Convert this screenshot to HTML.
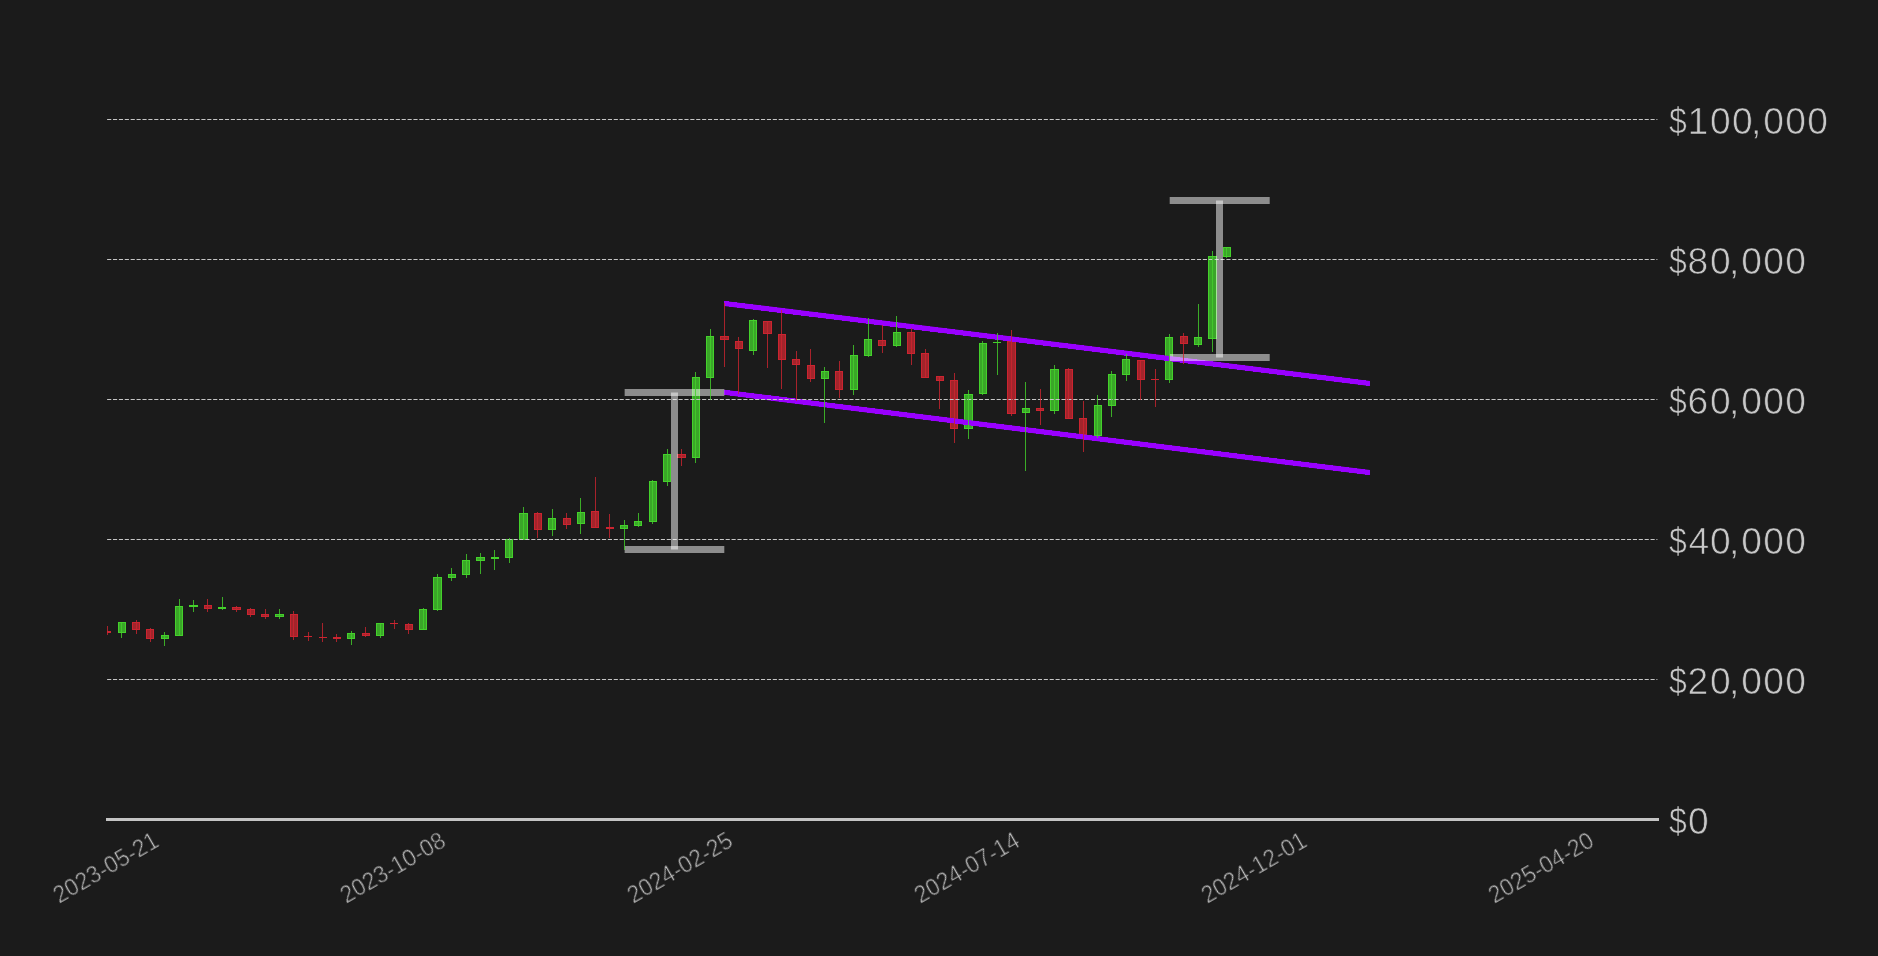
<!DOCTYPE html>
<html lang="en"><head><meta charset="utf-8"><title>BTC weekly chart</title>
<style>html,body{margin:0;padding:0;background:#1b1b1b;overflow:hidden}svg{display:block}text{font-family:"Liberation Sans",sans-serif;fill:#c8c8c8;stroke:#1b1b1b;stroke-width:0.7px}</style></head><body>
<svg width="1878" height="956" viewBox="0 0 1878 956">
<rect width="1878" height="956" fill="#1b1b1b"/>
<defs><clipPath id="cp"><rect x="107" y="0" width="1600" height="956"/></clipPath></defs>
<g clip-path="url(#cp)" shape-rendering="crispEdges">
<rect x="103" y="631" width="8" height="2" fill="#cc2430"/>
<rect x="118.5" y="622.5" width="7" height="10" fill="#3aa628" stroke="#44d12b" stroke-width="1"/>
<rect x="132.5" y="622.5" width="7" height="7" fill="#a3242b" stroke="#cc2430" stroke-width="1"/>
<rect x="146.5" y="629.5" width="7" height="9" fill="#a3242b" stroke="#cc2430" stroke-width="1"/>
<rect x="161.5" y="635.5" width="7" height="3" fill="#3aa628" stroke="#44d12b" stroke-width="1"/>
<rect x="175.5" y="606.5" width="7" height="29" fill="#3aa628" stroke="#44d12b" stroke-width="1"/>
<rect x="189" y="605" width="9" height="2" fill="#44d12b"/>
<rect x="204.5" y="605.5" width="7" height="3" fill="#a3242b" stroke="#cc2430" stroke-width="1"/>
<rect x="218" y="607" width="8" height="2" fill="#44d12b"/>
<rect x="232.5" y="607.5" width="8" height="2" fill="#a3242b" stroke="#cc2430" stroke-width="1"/>
<rect x="247.5" y="609.5" width="7" height="5" fill="#a3242b" stroke="#cc2430" stroke-width="1"/>
<rect x="261.5" y="614.5" width="7" height="2" fill="#a3242b" stroke="#cc2430" stroke-width="1"/>
<rect x="275.5" y="614.5" width="8" height="2" fill="#3aa628" stroke="#44d12b" stroke-width="1"/>
<rect x="290.5" y="614.5" width="7" height="22" fill="#a3242b" stroke="#cc2430" stroke-width="1"/>
<rect x="304" y="636" width="8" height="1" fill="#cc2430"/>
<rect x="319" y="637" width="8" height="1" fill="#cc2430"/>
<rect x="333" y="637" width="8" height="2" fill="#cc2430"/>
<rect x="347.5" y="633.5" width="7" height="5" fill="#3aa628" stroke="#44d12b" stroke-width="1"/>
<rect x="362.5" y="633.5" width="7" height="2" fill="#a3242b" stroke="#cc2430" stroke-width="1"/>
<rect x="376.5" y="623.5" width="7" height="12" fill="#3aa628" stroke="#44d12b" stroke-width="1"/>
<rect x="390" y="623" width="8" height="1" fill="#cc2430"/>
<rect x="405.5" y="624.5" width="7" height="5" fill="#a3242b" stroke="#cc2430" stroke-width="1"/>
<rect x="419.5" y="609.5" width="7" height="20" fill="#3aa628" stroke="#44d12b" stroke-width="1"/>
<rect x="433.5" y="577.5" width="8" height="32" fill="#3aa628" stroke="#44d12b" stroke-width="1"/>
<rect x="448.5" y="574.5" width="7" height="3" fill="#3aa628" stroke="#44d12b" stroke-width="1"/>
<rect x="462.5" y="560.5" width="7" height="14" fill="#3aa628" stroke="#44d12b" stroke-width="1"/>
<rect x="476.5" y="557.5" width="8" height="3" fill="#3aa628" stroke="#44d12b" stroke-width="1"/>
<rect x="491" y="557" width="8" height="2" fill="#44d12b"/>
<rect x="505.5" y="539.5" width="7" height="18" fill="#3aa628" stroke="#44d12b" stroke-width="1"/>
<rect x="519.5" y="513.5" width="8" height="26" fill="#3aa628" stroke="#44d12b" stroke-width="1"/>
<rect x="534.5" y="513.5" width="7" height="16" fill="#a3242b" stroke="#cc2430" stroke-width="1"/>
<rect x="548.5" y="518.5" width="7" height="11" fill="#3aa628" stroke="#44d12b" stroke-width="1"/>
<rect x="563.5" y="518.5" width="7" height="6" fill="#a3242b" stroke="#cc2430" stroke-width="1"/>
<rect x="577.5" y="512.5" width="7" height="11" fill="#3aa628" stroke="#44d12b" stroke-width="1"/>
<rect x="591.5" y="511.5" width="7" height="16" fill="#a3242b" stroke="#cc2430" stroke-width="1"/>
<rect x="606" y="527" width="8" height="2" fill="#cc2430"/>
<rect x="620.5" y="525.5" width="7" height="3" fill="#3aa628" stroke="#44d12b" stroke-width="1"/>
<rect x="634.5" y="521.5" width="7" height="4" fill="#3aa628" stroke="#44d12b" stroke-width="1"/>
<rect x="649.5" y="481.5" width="7" height="40" fill="#3aa628" stroke="#44d12b" stroke-width="1"/>
<rect x="663.5" y="454.5" width="7" height="27" fill="#3aa628" stroke="#44d12b" stroke-width="1"/>
<rect x="677.5" y="454.5" width="8" height="3" fill="#a3242b" stroke="#cc2430" stroke-width="1"/>
<rect x="692.5" y="377.5" width="7" height="80" fill="#3aa628" stroke="#44d12b" stroke-width="1"/>
<rect x="706.5" y="336.5" width="7" height="41" fill="#3aa628" stroke="#44d12b" stroke-width="1"/>
<rect x="720.5" y="336.5" width="8" height="3" fill="#a3242b" stroke="#cc2430" stroke-width="1"/>
<rect x="735.5" y="341.5" width="7" height="7" fill="#a3242b" stroke="#cc2430" stroke-width="1"/>
<rect x="749.5" y="320.5" width="7" height="30" fill="#3aa628" stroke="#44d12b" stroke-width="1"/>
<rect x="763.5" y="321.5" width="8" height="12" fill="#a3242b" stroke="#cc2430" stroke-width="1"/>
<rect x="778.5" y="334.5" width="7" height="25" fill="#a3242b" stroke="#cc2430" stroke-width="1"/>
<rect x="792.5" y="359.5" width="7" height="5" fill="#a3242b" stroke="#cc2430" stroke-width="1"/>
<rect x="807.5" y="365.5" width="7" height="13" fill="#a3242b" stroke="#cc2430" stroke-width="1"/>
<rect x="821.5" y="371.5" width="7" height="7" fill="#3aa628" stroke="#44d12b" stroke-width="1"/>
<rect x="835.5" y="371.5" width="7" height="18" fill="#a3242b" stroke="#cc2430" stroke-width="1"/>
<rect x="850.5" y="355.5" width="7" height="34" fill="#3aa628" stroke="#44d12b" stroke-width="1"/>
<rect x="864.5" y="339.5" width="7" height="16" fill="#3aa628" stroke="#44d12b" stroke-width="1"/>
<rect x="878.5" y="340.5" width="7" height="5" fill="#a3242b" stroke="#cc2430" stroke-width="1"/>
<rect x="893.5" y="332.5" width="7" height="13" fill="#3aa628" stroke="#44d12b" stroke-width="1"/>
<rect x="907.5" y="332.5" width="7" height="21" fill="#a3242b" stroke="#cc2430" stroke-width="1"/>
<rect x="921.5" y="353.5" width="7" height="24" fill="#a3242b" stroke="#cc2430" stroke-width="1"/>
<rect x="936.5" y="376.5" width="7" height="4" fill="#a3242b" stroke="#cc2430" stroke-width="1"/>
<rect x="950.5" y="380.5" width="7" height="48" fill="#a3242b" stroke="#cc2430" stroke-width="1"/>
<rect x="964.5" y="394.5" width="8" height="34" fill="#3aa628" stroke="#44d12b" stroke-width="1"/>
<rect x="979.5" y="343.5" width="7" height="50" fill="#3aa628" stroke="#44d12b" stroke-width="1"/>
<rect x="993" y="342" width="8" height="1" fill="#44d12b"/>
<rect x="1007.5" y="341.5" width="8" height="72" fill="#a3242b" stroke="#cc2430" stroke-width="1"/>
<rect x="1022.5" y="408.5" width="7" height="4" fill="#3aa628" stroke="#44d12b" stroke-width="1"/>
<rect x="1036.5" y="408.5" width="7" height="2" fill="#a3242b" stroke="#cc2430" stroke-width="1"/>
<rect x="1050.5" y="369.5" width="8" height="41" fill="#3aa628" stroke="#44d12b" stroke-width="1"/>
<rect x="1065.5" y="369.5" width="7" height="49" fill="#a3242b" stroke="#cc2430" stroke-width="1"/>
<rect x="1079.5" y="418.5" width="7" height="16" fill="#a3242b" stroke="#cc2430" stroke-width="1"/>
<rect x="1094.5" y="405.5" width="7" height="30" fill="#3aa628" stroke="#44d12b" stroke-width="1"/>
<rect x="1108.5" y="374.5" width="7" height="31" fill="#3aa628" stroke="#44d12b" stroke-width="1"/>
<rect x="1122.5" y="359.5" width="7" height="15" fill="#3aa628" stroke="#44d12b" stroke-width="1"/>
<rect x="1137.5" y="360.5" width="7" height="19" fill="#a3242b" stroke="#cc2430" stroke-width="1"/>
<rect x="1151" y="379" width="8" height="1" fill="#cc2430"/>
<rect x="1165.5" y="337.5" width="7" height="42" fill="#3aa628" stroke="#44d12b" stroke-width="1"/>
<rect x="1180.5" y="336.5" width="7" height="7" fill="#a3242b" stroke="#cc2430" stroke-width="1"/>
<rect x="1194.5" y="337.5" width="7" height="7" fill="#3aa628" stroke="#44d12b" stroke-width="1"/>
<rect x="1208.5" y="256.5" width="8" height="82" fill="#3aa628" stroke="#44d12b" stroke-width="1"/>
<rect x="1223.5" y="247.5" width="7" height="9" fill="#3aa628" stroke="#44d12b" stroke-width="1"/>
</g>
<g fill="#9900ff">
<polygon points="724,300.9 1370,381.02 1370,386.02 724,305.9"/>
<polygon points="724,389.72 1370,470.09 1370,475.09 724,394.72"/>
</g>
<g fill="#9900ff" shape-rendering="crispEdges">
<polygon points="724,300.9 1370,381.02 1370,386.02 724,305.9"/>
<polygon points="724,389.72 1370,470.09 1370,475.09 724,394.72"/>
</g>
<g stroke="#c6c6c6" stroke-width="1" stroke-dasharray="4.15 1.741" fill="none">
<line x1="107.1" y1="119.5" x2="1657.4" y2="119.5"/>
<line x1="107.1" y1="259.5" x2="1657.4" y2="259.5"/>
<line x1="107.1" y1="399.5" x2="1657.4" y2="399.5"/>
<line x1="107.1" y1="539.5" x2="1657.4" y2="539.5"/>
<line x1="107.1" y1="679.5" x2="1657.4" y2="679.5"/>
</g>
<g fill="#ffffff" fill-opacity="0.5"><rect x="624.65" y="389.0" width="99.64999999999998" height="7"/><rect x="624.65" y="546.0" width="99.64999999999998" height="7"/><rect x="671.0" y="392.5" width="7" height="157.0"/></g>
<g fill="#ffffff" fill-opacity="0.5"><rect x="1169.7" y="197.0" width="100.0" height="7"/><rect x="1169.7" y="354.0" width="100.0" height="7"/><rect x="1216.0" y="200.5" width="7" height="157.0"/></g>
<g clip-path="url(#cp)" shape-rendering="crispEdges" fill-opacity="0.8">
<rect x="107" y="626" width="1" height="9" fill="#cc2430"/>
<rect x="121" y="622" width="1" height="16" fill="#44d12b"/>
<rect x="136" y="620" width="1" height="14" fill="#cc2430"/>
<rect x="150" y="628" width="1" height="14" fill="#cc2430"/>
<rect x="164" y="632" width="1" height="14" fill="#44d12b"/>
<rect x="179" y="599" width="1" height="37" fill="#44d12b"/>
<rect x="193" y="600" width="1" height="12" fill="#44d12b"/>
<rect x="207" y="599" width="1" height="13" fill="#cc2430"/>
<rect x="222" y="597" width="1" height="13" fill="#44d12b"/>
<rect x="236" y="606" width="1" height="6" fill="#cc2430"/>
<rect x="250" y="608" width="1" height="9" fill="#cc2430"/>
<rect x="265" y="609" width="1" height="10" fill="#cc2430"/>
<rect x="279" y="609" width="1" height="10" fill="#44d12b"/>
<rect x="293" y="611" width="1" height="29" fill="#cc2430"/>
<rect x="308" y="632" width="1" height="9" fill="#cc2430"/>
<rect x="322" y="623" width="1" height="19" fill="#cc2430"/>
<rect x="336" y="634" width="1" height="8" fill="#cc2430"/>
<rect x="351" y="631" width="1" height="14" fill="#44d12b"/>
<rect x="365" y="627" width="1" height="10" fill="#cc2430"/>
<rect x="380" y="623" width="1" height="15" fill="#44d12b"/>
<rect x="394" y="620" width="1" height="9" fill="#cc2430"/>
<rect x="408" y="623" width="1" height="11" fill="#cc2430"/>
<rect x="423" y="608" width="1" height="22" fill="#44d12b"/>
<rect x="437" y="574" width="1" height="37" fill="#44d12b"/>
<rect x="451" y="568" width="1" height="13" fill="#44d12b"/>
<rect x="466" y="554" width="1" height="24" fill="#44d12b"/>
<rect x="480" y="553" width="1" height="21" fill="#44d12b"/>
<rect x="494" y="550" width="1" height="20" fill="#44d12b"/>
<rect x="509" y="538" width="1" height="25" fill="#44d12b"/>
<rect x="523" y="507" width="1" height="33" fill="#44d12b"/>
<rect x="537" y="512" width="1" height="26" fill="#cc2430"/>
<rect x="552" y="509" width="1" height="27" fill="#44d12b"/>
<rect x="566" y="513" width="1" height="16" fill="#cc2430"/>
<rect x="580" y="498" width="1" height="36" fill="#44d12b"/>
<rect x="595" y="477" width="1" height="51" fill="#cc2430"/>
<rect x="609" y="514" width="1" height="24" fill="#cc2430"/>
<rect x="624" y="520" width="1" height="30" fill="#44d12b"/>
<rect x="638" y="513" width="1" height="14" fill="#44d12b"/>
<rect x="652" y="480" width="1" height="44" fill="#44d12b"/>
<rect x="667" y="449" width="1" height="37" fill="#44d12b"/>
<rect x="681" y="449" width="1" height="17" fill="#cc2430"/>
<rect x="695" y="372" width="1" height="91" fill="#44d12b"/>
<rect x="710" y="329" width="1" height="71" fill="#44d12b"/>
<rect x="724" y="303" width="1" height="64" fill="#cc2430"/>
<rect x="738" y="337" width="1" height="57" fill="#cc2430"/>
<rect x="753" y="319" width="1" height="36" fill="#44d12b"/>
<rect x="767" y="321" width="1" height="47" fill="#cc2430"/>
<rect x="781" y="310" width="1" height="79" fill="#cc2430"/>
<rect x="796" y="351" width="1" height="50" fill="#cc2430"/>
<rect x="810" y="349" width="1" height="33" fill="#cc2430"/>
<rect x="824" y="367" width="1" height="56" fill="#44d12b"/>
<rect x="839" y="361" width="1" height="37" fill="#cc2430"/>
<rect x="853" y="345" width="1" height="50" fill="#44d12b"/>
<rect x="868" y="318" width="1" height="39" fill="#44d12b"/>
<rect x="882" y="325" width="1" height="28" fill="#cc2430"/>
<rect x="896" y="316" width="1" height="31" fill="#44d12b"/>
<rect x="911" y="328" width="1" height="37" fill="#cc2430"/>
<rect x="925" y="349" width="1" height="29" fill="#cc2430"/>
<rect x="939" y="376" width="1" height="33" fill="#cc2430"/>
<rect x="954" y="373" width="1" height="70" fill="#cc2430"/>
<rect x="968" y="390" width="1" height="49" fill="#44d12b"/>
<rect x="982" y="341" width="1" height="54" fill="#44d12b"/>
<rect x="997" y="333" width="1" height="42" fill="#44d12b"/>
<rect x="1011" y="330" width="1" height="86" fill="#cc2430"/>
<rect x="1025" y="382" width="1" height="89" fill="#44d12b"/>
<rect x="1040" y="389" width="1" height="36" fill="#cc2430"/>
<rect x="1054" y="365" width="1" height="49" fill="#44d12b"/>
<rect x="1068" y="368" width="1" height="51" fill="#cc2430"/>
<rect x="1083" y="401" width="1" height="51" fill="#cc2430"/>
<rect x="1097" y="395" width="1" height="43" fill="#44d12b"/>
<rect x="1111" y="371" width="1" height="46" fill="#44d12b"/>
<rect x="1126" y="354" width="1" height="27" fill="#44d12b"/>
<rect x="1140" y="360" width="1" height="40" fill="#cc2430"/>
<rect x="1155" y="369" width="1" height="38" fill="#cc2430"/>
<rect x="1169" y="334" width="1" height="49" fill="#44d12b"/>
<rect x="1183" y="333" width="1" height="31" fill="#cc2430"/>
<rect x="1198" y="304" width="1" height="43" fill="#44d12b"/>
<rect x="1212" y="251" width="1" height="101" fill="#44d12b"/>
<rect x="1226" y="247" width="1" height="11" fill="#44d12b"/>
</g>
<line x1="106" y1="819.5" x2="1659" y2="819.5" stroke="#c4c4c4" stroke-width="3"/>
<g opacity="0.999">
<text transform="translate(1669.0,133.75) scale(0.86,1)" font-size="37.2">$</text><text x="1687.60 1710.00 1732.00 1751.10 1763.15 1785.15 1807.15" y="133.75" font-size="37.2">100,000</text>
<text transform="translate(1669.0,273.75) scale(0.86,1)" font-size="37.2">$</text><text x="1687.50 1710.00 1729.10 1741.15 1763.15 1785.15" y="273.75" font-size="37.2">80,000</text>
<text transform="translate(1669.0,413.75) scale(0.86,1)" font-size="37.2">$</text><text x="1687.50 1710.00 1729.10 1741.15 1763.15 1785.15" y="413.75" font-size="37.2">60,000</text>
<text transform="translate(1669.0,553.75) scale(0.86,1)" font-size="37.2">$</text><text x="1688.50 1710.00 1729.10 1741.15 1763.15 1785.15" y="553.75" font-size="37.2">40,000</text>
<text transform="translate(1669.0,693.75) scale(0.86,1)" font-size="37.2">$</text><text x="1687.50 1710.00 1729.10 1741.15 1763.15 1785.15" y="693.75" font-size="37.2">20,000</text>
<text transform="translate(1669.0,833.75) scale(0.86,1)" font-size="37.2">$</text><text x="1688.00" y="833.75" font-size="37.2">0</text>
<text transform="translate(105.34,866.8) rotate(-30) scale(0.953,1)" text-anchor="middle" font-size="24" dy="8.6" stroke-width="0.2">2023-05-21</text>
<text transform="translate(392.38,866.8) rotate(-30) scale(0.953,1)" text-anchor="middle" font-size="24" dy="8.6" stroke-width="0.2">2023-10-08</text>
<text transform="translate(679.43,866.8) rotate(-30) scale(0.953,1)" text-anchor="middle" font-size="24" dy="8.6" stroke-width="0.2">2024-02-25</text>
<text transform="translate(966.47,866.8) rotate(-30) scale(0.953,1)" text-anchor="middle" font-size="24" dy="8.6" stroke-width="0.2">2024-07-14</text>
<text transform="translate(1253.51,866.8) rotate(-30) scale(0.953,1)" text-anchor="middle" font-size="24" dy="8.6" stroke-width="0.2">2024-12-01</text>
<text transform="translate(1540.55,866.8) rotate(-30) scale(0.953,1)" text-anchor="middle" font-size="24" dy="8.6" stroke-width="0.2">2025-04-20</text>
</g>
</svg></body></html>
